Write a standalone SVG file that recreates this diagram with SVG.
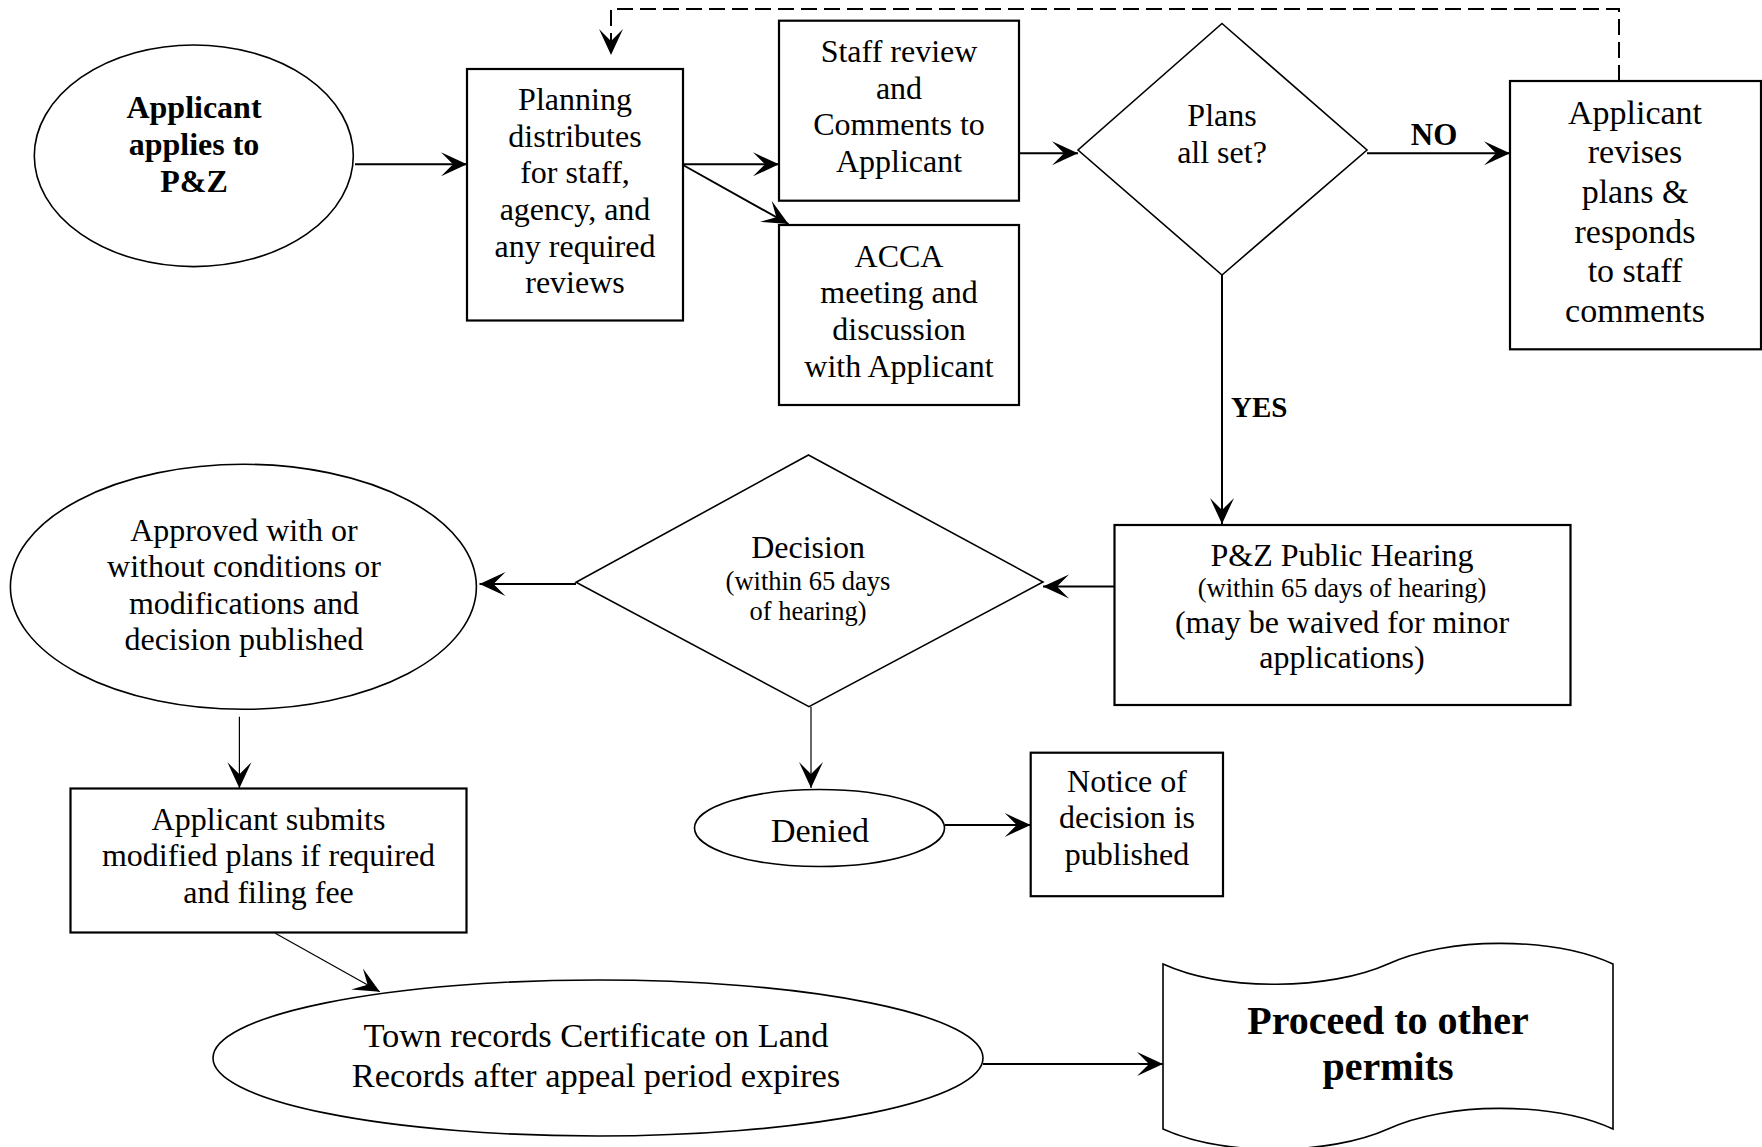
<svg xmlns="http://www.w3.org/2000/svg" width="1762" height="1147" viewBox="0 0 1762 1147">
  <style>
    .box { fill: #fff; stroke: #000; stroke-width: 2.2; }
    .shape { fill: #fff; stroke: #000; stroke-width: 1.6; }
    .t { font-family: "Liberation Serif", "Times New Roman", serif; font-size: 32px; text-anchor: middle; fill: #000; }
    .b { font-weight: bold; }
    .sm { font-size: 26.5px; }
    .lg { font-size: 34px; }
    .xl { font-size: 40px; }
    .lbl { font-family: "Liberation Serif", "Times New Roman", serif; font-size: 29px; font-weight: bold; fill: #000; }
    .conn { stroke: #000; stroke-width: 2; fill: none; }
    .thin { stroke-width: 1.2; }
    .dash { stroke-dasharray: 16 7; }
  </style>
  <defs>
    <marker id="arrow" markerUnits="userSpaceOnUse" viewBox="-28 -14 30 28" refX="0" refY="0" markerWidth="30" markerHeight="28" orient="auto">
      <path d="M0,0 L-26,-12 L-14,0 L-26,12 Z" fill="#000"/>
    </marker>
  </defs>

  <rect width="1762" height="1147" fill="#fff"/>

  <!-- connectors -->
  <g id="connectors">
    <path class="conn dash" d="M1619,81 V9 H611 V55" marker-end="url(#arrow)"/>
    <line class="conn" x1="355" y1="164.3" x2="467" y2="164.3" marker-end="url(#arrow)"/>
    <line class="conn" x1="683" y1="164.3" x2="779" y2="164.3" marker-end="url(#arrow)"/>
    <line class="conn" x1="683" y1="165" x2="788.5" y2="224" marker-end="url(#arrow)"/>
    <line class="conn" x1="1019" y1="153.3" x2="1078" y2="153.3" marker-end="url(#arrow)"/>
    <line class="conn" x1="1367" y1="153.3" x2="1510" y2="153.3" marker-end="url(#arrow)"/>
    <line class="conn" x1="1222" y1="275" x2="1222" y2="524" marker-end="url(#arrow)"/>
    <line class="conn" x1="1114.5" y1="586.5" x2="1043" y2="586.5" marker-end="url(#arrow)"/>
    <line class="conn" x1="576" y1="584" x2="479.5" y2="584" marker-end="url(#arrow)"/>
    <line class="conn thin" x1="239.4" y1="716.7" x2="239.4" y2="788.3" marker-end="url(#arrow)"/>
    <line class="conn thin" x1="811" y1="706.7" x2="811" y2="788" marker-end="url(#arrow)"/>
    <line class="conn" x1="945" y1="825" x2="1030.7" y2="825" marker-end="url(#arrow)"/>
    <line class="conn thin" x1="275.3" y1="933.3" x2="379.8" y2="991.7" marker-end="url(#arrow)"/>
    <line class="conn" x1="983" y1="1064" x2="1163" y2="1064" marker-end="url(#arrow)"/>
    <text class="lbl" x="1434" y="145" text-anchor="middle" style="font-size:31px">NO</text>
    <text class="lbl" x="1231" y="417.3">YES</text>
  </g>

  <g id="applicant-applies">
    <ellipse class="shape" cx="193.8" cy="155.8" rx="159.5" ry="110.8"/>
    <text class="t b" x="194" y="118.3">Applicant</text>
    <text class="t b" x="194" y="155">applies to</text>
    <text class="t b" x="194" y="191.7">P&amp;Z</text>
  </g>

  <g id="planning-distributes">
    <rect class="box" x="467" y="69" width="216" height="251.5"/>
    <text class="t" x="575" y="110">Planning</text>
    <text class="t" x="575" y="146.7">distributes</text>
    <text class="t" x="575" y="183.3">for staff,</text>
    <text class="t" x="575" y="220">agency, and</text>
    <text class="t" x="575" y="256.7">any required</text>
    <text class="t" x="575" y="292.7">reviews</text>
  </g>

  <g id="staff-review">
    <rect class="box" x="779" y="20.7" width="240" height="180"/>
    <text class="t" x="899" y="62">Staff review</text>
    <text class="t" x="899" y="98.7">and</text>
    <text class="t" x="899" y="135.3">Comments to</text>
    <text class="t" x="899" y="172">Applicant</text>
  </g>

  <g id="acca-meeting">
    <rect class="box" x="779" y="225" width="240" height="180"/>
    <text class="t" x="899" y="266.7">ACCA</text>
    <text class="t" x="899" y="303.3">meeting and</text>
    <text class="t" x="899" y="340">discussion</text>
    <text class="t" x="899" y="376.7">with Applicant</text>
  </g>

  <g id="plans-all-set">
    <polygon class="shape" points="1222,23.5 1367,150 1222,275 1078,150"/>
    <text class="t" x="1222" y="126">Plans</text>
    <text class="t" x="1222" y="163.3">all set?</text>
  </g>

  <g id="applicant-revises">
    <rect class="box" x="1510" y="81" width="251" height="268.3"/>
    <text class="t lg" x="1635" y="124">Applicant</text>
    <text class="t lg" x="1635" y="163.3">revises</text>
    <text class="t lg" x="1635" y="203">plans &amp;</text>
    <text class="t lg" x="1635" y="242.7">responds</text>
    <text class="t lg" x="1635" y="282.3">to staff</text>
    <text class="t lg" x="1635" y="322">comments</text>
  </g>

  <g id="public-hearing">
    <rect class="box" x="1114.5" y="525" width="456" height="180"/>
    <text class="t" x="1342" y="565.7">P&amp;Z Public Hearing</text>
    <text class="t sm" x="1342" y="597">(within 65 days of hearing)</text>
    <text class="t" x="1342" y="633.3">(may be waived for minor</text>
    <text class="t" x="1342" y="668.3">applications)</text>
  </g>

  <g id="decision">
    <polygon class="shape" points="808.5,455 1043,582 809,706.7 576,582.3"/>
    <text class="t" x="808" y="558.3">Decision</text>
    <text class="t sm" x="808" y="590">(within 65 days</text>
    <text class="t sm" x="808" y="620">of hearing)</text>
  </g>

  <g id="approved">
    <ellipse class="shape" cx="243.4" cy="586.8" rx="233" ry="122.5"/>
    <text class="t" x="244" y="540.5">Approved with or</text>
    <text class="t" x="244" y="577">without conditions or</text>
    <text class="t" x="244" y="613.7">modifications and</text>
    <text class="t" x="244" y="650.3">decision published</text>
  </g>

  <g id="applicant-submits">
    <rect class="box" x="70.5" y="788.5" width="396" height="144"/>
    <text class="t" x="268.5" y="829.5">Applicant submits</text>
    <text class="t" x="268.5" y="866">modified plans if required</text>
    <text class="t" x="268.5" y="902.7">and filing fee</text>
  </g>

  <g id="denied">
    <ellipse class="shape" cx="819.5" cy="828" rx="125" ry="38.5"/>
    <text class="t lg" x="820" y="841.7">Denied</text>
  </g>

  <g id="notice-published">
    <rect class="box" x="1030.7" y="752.7" width="192.3" height="143.5"/>
    <text class="t" x="1127" y="791.7">Notice of</text>
    <text class="t" x="1127" y="828.3">decision is</text>
    <text class="t" x="1127" y="865">published</text>
  </g>

  <g id="town-records">
    <ellipse class="shape" cx="598" cy="1058" rx="385" ry="78"/>
    <text class="t" style="font-size:34.5px" x="596" y="1047">Town records Certificate on Land</text>
    <text class="t" style="font-size:34.5px" x="596" y="1087">Records after appeal period expires</text>
  </g>

  <g id="proceed">
    <path class="shape" d="M1163,964 C1225,992 1330,990 1388,964 C1446,937 1551,936 1613,964 V1129 C1551,1101 1446,1102 1388,1129 C1330,1155 1225,1157 1163,1129 Z"/>
    <text class="t b xl" x="1388" y="1033.5">Proceed to other</text>
    <text class="t b xl" x="1388" y="1080">permits</text>
  </g>
</svg>
